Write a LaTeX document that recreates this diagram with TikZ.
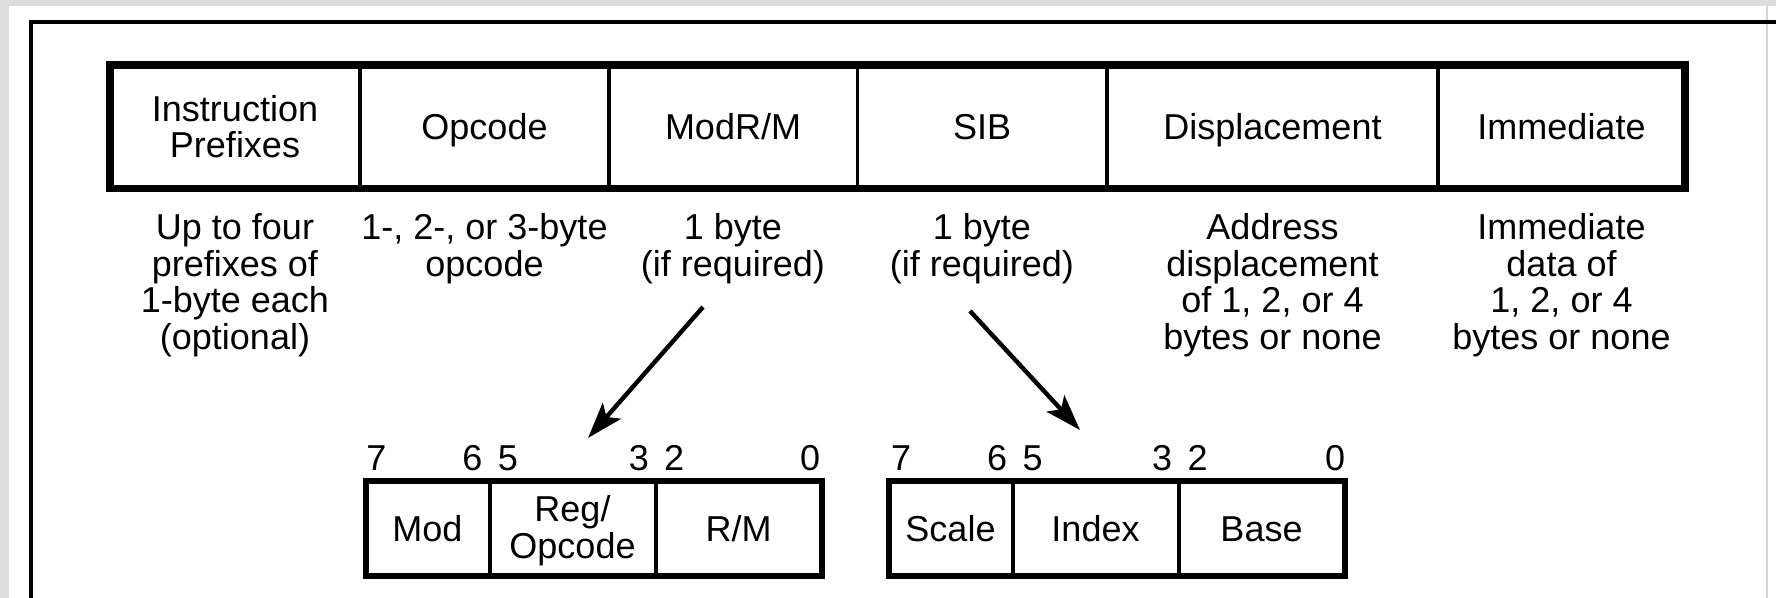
\documentclass[tikz,border=0pt]{standalone}
\usepackage{fontspec}
\setmainfont{Liberation Sans}
\usetikzlibrary{arrows.meta}
\definecolor{bggrey}{RGB}{221,221,221}
\definecolor{edgegrey}{RGB}{212,212,212}
\begin{document}
\begin{tikzpicture}[x=0.5pt,y=-0.5pt,
  lbl/.style={font=\fontsize{18}{18.3}\selectfont, inner sep=0pt, anchor=base, align=center},
  bigbox/.style={line width=3.6pt},
  bigdiv/.style={line width=1.8pt},
  smallbox/.style={line width=3pt},
  smalldiv/.style={line width=2pt},
  framestyle/.style={line width=2.2pt},
  pointer/.style={line width=2.2pt, -{Stealth[length=18pt,width=12pt,inset=4pt]}}]
\useasboundingbox (0,0) rectangle (1776,598);
% page background and frame
\fill[bggrey] (0,0) rectangle (1776,598);
\fill[white] (9,6) rectangle (1776,598);
\draw[edgegrey, line width=0.6pt] (1767,6) -- (1767,598);
\draw[framestyle] (31,598) -- (31,22) -- (1776,22);

% top instruction format box
\draw[bigbox] (110,65) rectangle (1685,188.5);
\foreach \x in {360,609,857.5,1107,1438}
  \draw[bigdiv] (\x,65) -- (\x,188.5);

% (multi-line labels are anchored at the baseline of their last line)
\node[lbl] (pfx)   at (235,158)     {Instruction\\Prefixes};
\node[lbl] (opc)   at (484.5,139.5) {Opcode};
\node[lbl] (modrm) at (733,139.5)   {ModR/M};
\node[lbl] (sib)   at (982,139.5)   {SIB};
\node[lbl] (disp)  at (1272.5,139.5){Displacement};
\node[lbl] (imm)   at (1561.5,139.5){Immediate};

% descriptions
\node[lbl] (dpfx)   at (235,349.5)    {Up to four\\prefixes of\\1-byte each\\(optional)};
\node[lbl] (dopc)   at (484.5,276.5)  {1-, 2-, or 3-byte\\opcode};
\node[lbl] (dmodrm) at (733,276.5)    {1 byte\\(if required)};
\node[lbl] (dsib)   at (982,276.5)    {1 byte\\(if required)};
\node[lbl] (ddisp)  at (1272.5,349.5) {Address\\displacement\\of 1, 2, or 4\\bytes or none};
\node[lbl] (dimm)   at (1561.5,349.5) {Immediate\\data of\\1, 2, or 4\\bytes or none};

% ModR/M byte
\draw[smallbox] (365.5,481) rectangle (821.5,576);
\draw[smalldiv] (489.5,481) -- (489.5,576);
\draw[smalldiv] (655.5,481) -- (655.5,576);
\node[lbl] (mod) at (427.5,541.5) {Mod};
\node[lbl] (reg) at (572.5,558)   {Reg/\\Opcode};
\node[lbl] (rm)  at (738.5,541.5) {R/M};
\node[lbl] (m7) at (376.5,470.5) {7};
\node[lbl] (m6) at (472.5,470.5) {6};
\node[lbl] (m5) at (508,470.5)   {5};
\node[lbl] (m3) at (639,470.5)   {3};
\node[lbl] (m2) at (674,470.5)   {2};
\node[lbl] (m0) at (810,470.5)   {0};

% SIB byte
\draw[smallbox] (888.5,481) rectangle (1344.5,576);
\draw[smalldiv] (1012.5,481) -- (1012.5,576);
\draw[smalldiv] (1178.5,481) -- (1178.5,576);
\node[lbl] (scale) at (950.5,541.5)  {Scale};
\node[lbl] (index) at (1095.5,541.5) {Index};
\node[lbl] (base)  at (1261.5,541.5) {Base};
\node[lbl] (s7) at (901,470.5)    {7};
\node[lbl] (s6) at (997,470.5)    {6};
\node[lbl] (s5) at (1032.5,470.5) {5};
\node[lbl] (s3) at (1162,470.5)   {3};
\node[lbl] (s2) at (1197.5,470.5) {2};
\node[lbl] (s0) at (1335,470.5)   {0};

% pointers
\coordinate (a1s) at (703,307);
\coordinate (a1e) at (588,438);
\coordinate (a2s) at (970,311);
\coordinate (a2e) at (1080,430);
\draw[pointer] (a1s) -- (a1e);
\draw[pointer] (a2s) -- (a2e);
\end{tikzpicture}
\end{document}
